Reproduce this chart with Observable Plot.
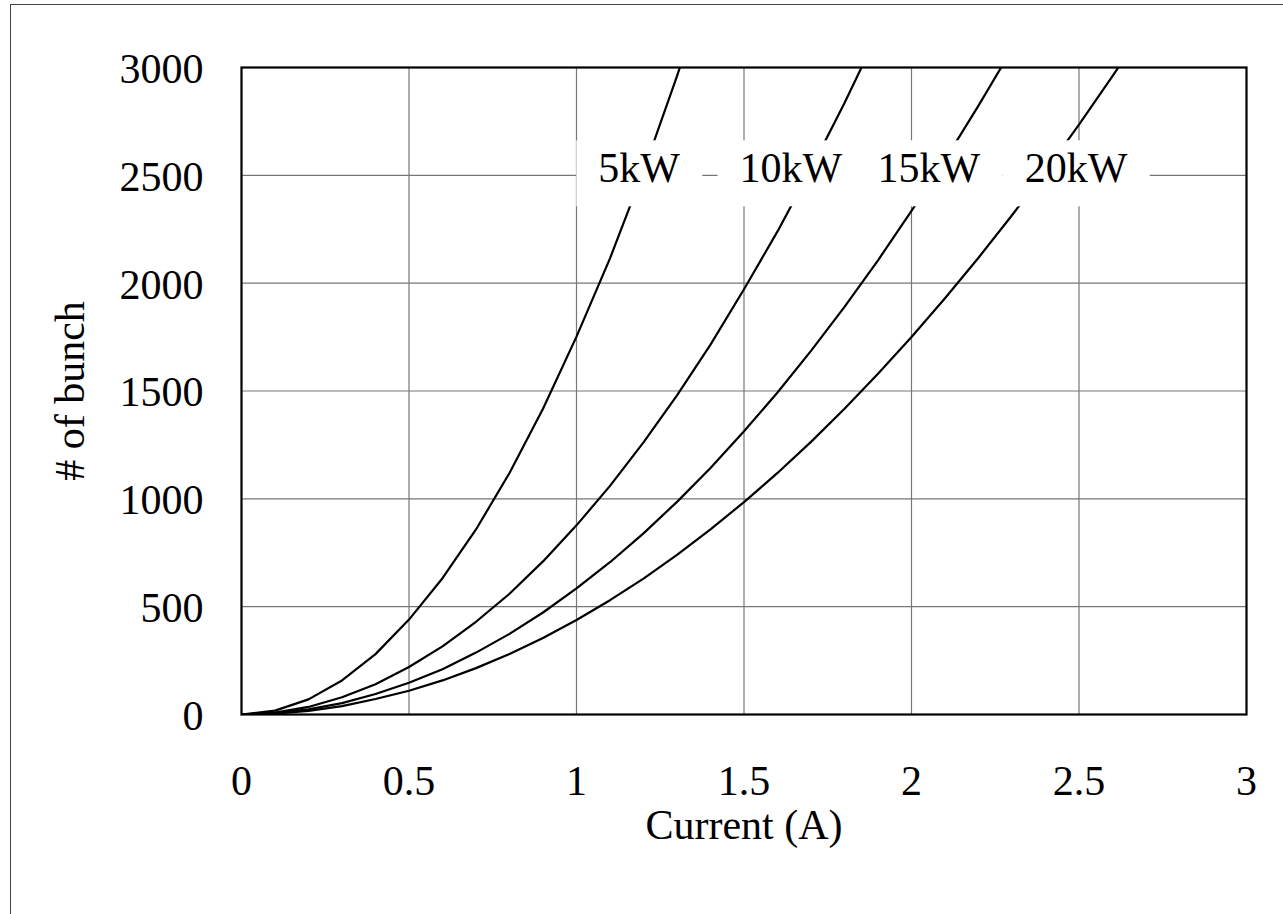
<!DOCTYPE html>
<html><head><meta charset="utf-8">
<script src="https://cdn.jsdelivr.net/npm/d3@7"></script>
<script src="https://cdn.jsdelivr.net/npm/@observablehq/plot@0.6"></script>
<style>
body{margin:0;background:#fff;}
#wrap{position:relative;width:1283px;height:914px;overflow:hidden;background:#fff;}
#border{position:absolute;left:10px;top:4px;right:-5px;bottom:-5px;border-top:1.5px solid #444;border-left:1.5px solid #444;pointer-events:none;}
svg{display:block}
</style></head><body><div id="wrap"><div id="border"></div></div>
<script>
// Current (A), sampled every 0.1 A
const current = [0,0.1,0.2,0.3,0.4,0.5,0.6,0.7,0.8,0.9,1.0,1.1,1.2,1.3,1.4,1.5,1.6,1.7,1.8,1.9,2.0,2.1,2.2,2.3,2.4,2.5,2.6,2.7];
const series = ["5kW","10kW","15kW","20kW"];
// # of bunch for each power level
const bunch5kW  = [0,18,70,158,280,440,632,858,1120,1418,1752,2115,2520,2960,3430];
const bunch10kW = [0,9,35,80,140,220,316,430,560,710,877,1060,1262,1480,1715,1972,2240,2530,2835,3160];
const bunch15kW = [0,6,24,53,95,147,210,287,374,473,585,706,840,986,1143,1313,1493,1686,1890,2106,2335,2572,2823,3085];
const bunch20kW = [0,4,17,39,72,110,158,215,281,355,438,530,630,740,858,985,1120,1264,1418,1580,1750,1930,2118,2315,2520,2735,2960,3190];
const bunchBySeries = [bunch5kW, bunch10kW, bunch15kW, bunch20kW];
// label anchors (data units)
const labelX = [1.187, 1.640, 2.052, 2.491];
const labelY = [2530, 2530, 2530, 2530];
const xTicks = [0,0.5,1,1.5,2,2.5,3];
const yTicks = [0,500,1000,1500,2000,2500,3000];
const xGrid = [0.5,1,1.5,2,2.5];
const yGrid = [500,1000,1500,2000,2500];

const rows = [];
series.forEach((s, si) => {
  bunchBySeries[si].forEach((v, i) => rows.push({series: s, current: current[i], bunch: v}));
});
const labels = series.map((s, i) => ({text: s, x: labelX[i], y: labelY[i]}));

const font = "'Liberation Serif', 'Times New Roman', serif";
const chart = Plot.plot({
  width: 1283,
  height: 914,
  marginLeft: 241,
  marginRight: 37,
  marginTop: 67,
  marginBottom: 200,
  style: {fontFamily: font, fontSize: "42px", color: "black", background: "transparent"},
  x: {domain: [0, 3]},
  y: {domain: [0, 3000]},
  marks: [
    Plot.gridX(xGrid, {stroke: "#777", strokeOpacity: 1, strokeWidth: 1.2}),
    Plot.gridY(yGrid, {stroke: "#777", strokeOpacity: 1, strokeWidth: 1.2}),
    Plot.line(rows, {x: "current", y: "bunch", z: "series", stroke: "black", strokeWidth: 2.2, clip: true}),
    Plot.text(labels, {x: "x", y: "y", text: "text", fontSize: 42, fill: "black", lineAnchor: "middle"}),
    Plot.frame({stroke: "black", strokeWidth: 2.2}),
    Plot.axisX({ticks: xTicks, tickFormat: d => String(d), tickSize: 0, tickPadding: 51, fontSize: 42, label: null}),
    Plot.axisY({ticks: yTicks, tickFormat: d => String(d), tickSize: 0, tickPadding: 38, fontSize: 42, dy: 2, label: null}),
    Plot.text(["Current (A)"], {frameAnchor: "bottom", lineAnchor: "middle", textAnchor: "middle", dy: 111, fontSize: 42, fill: "black"}),
    Plot.text(["# of bunch"], {frameAnchor: "left", lineAnchor: "middle", textAnchor: "middle", dx: -171, rotate: -90, fontSize: 42, fill: "black"})
  ]
});
document.getElementById("wrap").append(chart);

// white boxes behind the power labels
const ns = "http://www.w3.org/2000/svg";
chart.querySelectorAll("text").forEach(t => {
  if (!series.includes(t.textContent.trim())) return;
  const bb = t.getBBox();
  const r = document.createElementNS(ns, "rect");
  r.setAttribute("x", bb.x - 22);
  r.setAttribute("y", bb.y - 5);
  r.setAttribute("width", bb.width + 44);
  r.setAttribute("height", bb.height + 20);
  r.setAttribute("fill", "white");
  const tr = t.getAttribute("transform");
  if (tr) r.setAttribute("transform", tr);
  t.parentNode.insertBefore(r, t);
});
</script>
</body></html>
